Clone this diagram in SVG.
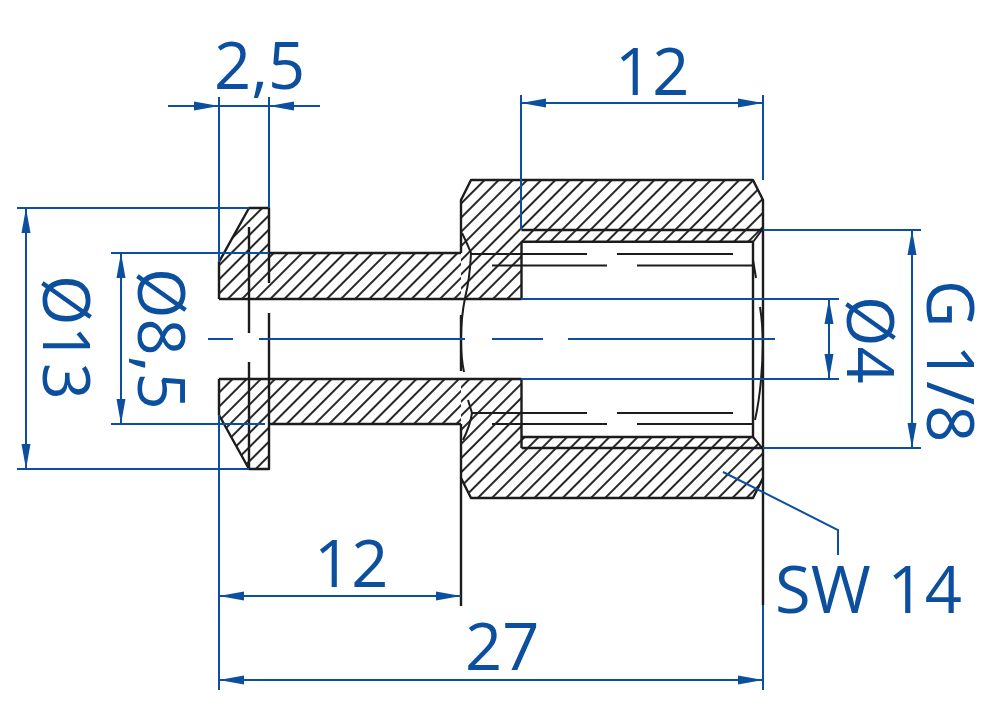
<svg xmlns="http://www.w3.org/2000/svg" width="1000" height="714" viewBox="0 0 1000 714">
<style>
.k{fill:none;stroke:#1c1c1c;stroke-width:2.4;stroke-linejoin:round}
.t{fill:none;stroke:#1c1c1c;stroke-width:2}
.b{fill:none;stroke:#0b4f9e;stroke-width:2}
.a{marker-start:url(#ah);marker-end:url(#ah)}
.e{marker-end:url(#ah)}
text{font-family:"Open Sans","Liberation Sans",sans-serif;font-size:65px;fill:#0b4f9e}
</style>
<defs>
<pattern id="h" patternUnits="userSpaceOnUse" width="10" height="10" patternTransform="rotate(45) translate(-2.500 0)"><path d="M5 0V10" stroke="#1c1c1c" stroke-width="1.9"/></pattern>
<pattern id="n" patternUnits="userSpaceOnUse" width="10" height="10" patternTransform="rotate(45) translate(5 0)"><path d="M5 0V10" stroke="#1c1c1c" stroke-width="1.9"/></pattern>
<marker id="ah" markerUnits="userSpaceOnUse" markerWidth="26" markerHeight="12" refX="25" refY="6" orient="auto-start-reverse"><path d="M0 1.500L25 6L0 10.500Z" fill="#0b4f9e"/></marker>
</defs>
<rect width="1000" height="714" fill="#fff"/>
<g id="section">
<path fill="url(#h)" d="M219 262L249 208H269V253H461V299H219ZM219 379H461V424H269V469H249L219 415Z"/>
<path fill="url(#n)" d="M461 200L471 180H753L763 200V230H521.500V299H461ZM461 379H521.500V448H763V478L753 498H471L461 478ZM521.500 230H763L753 241.700H521.500ZM521.500 437H753L763 448H521.500Z"/>
<path class="k" d="M219 299V262L249 208H269V283M269 253H461M269 424H461M269 313V469H249L219 415V379M219 299H521.500M219 379H521.500M219 262V299M219 379V415"/>
<path class="k" d="M249 227V333M249 362V469"/>
<path class="k" d="M461 253V200L471 180H753L763 200V478L753 498H471L461 478V424"/>
<path class="k" d="M461 315V371M521.500 241.700V299M521.500 379V448M521.500 230H763M521.500 241.700H753M521.500 437H753M521.500 448H763M753 241.700V437"/>
<path class="t" d="M462 233Q467 243 471 253Q470 278 465 298Q461 318 461 340Q461 358 464 372M468 400L472 413Q470 426 463 440M753 242L762 230M753 437L762 448M753 260L756 278M760 307Q765 337 761 380Q759 402 755 420"/>
<path class="t" d="M470 254H587M617 254H733M492 265.500H607M637 265.500H753M472 413H587M617 413H733M492 424H607M637 424H753"/>
<path class="k" d="M461 478V606M763 478V605"/>
</g>
<g id="dimension-lines">
<path class="b" d="M219 97V262M219 415V690M269 97V208M521 95V230M763 95V180M763 605V690"/>
<path class="b" d="M17 208H249M17 469H249M111 253H269M111 424H265M521 299H839M521 379H839M763 230H921M763 448H921"/>
<path class="b" d="M208 339H233M259 339H465M492 339H543M568 339H775"/>
<path class="b a" d="M26 208V469"/>
<path class="b a" d="M121 253V424"/>
<path class="b a" d="M829 299V379"/>
<path class="b a" d="M912 230V448"/>
<path class="b a" d="M521 103H763"/>
<path class="b a" d="M219 596H461"/>
<path class="b a" d="M219 680H763"/>
<path class="b e" d="M168 106H219"/>
<path class="b e" d="M320 106H269"/>
<path class="b" d="M219 106H269M723 472L838 530V555"/>
</g>
<g id="labels">
<text x="214" y="89">2,5</text>
<text x="615" y="95">12</text>
<text x="314" y="587">12</text>
<text x="465" y="670">27</text>
<text x="775" y="613">SW 14</text>
<text transform="translate(43 275) rotate(90)">Ø13</text>
<text transform="translate(138 268) rotate(90)">Ø8,5</text>
<text transform="translate(847 296) rotate(90)">Ø4</text>
<text transform="translate(927 280) rotate(90)">G 1/8</text>
</g>
</svg>
